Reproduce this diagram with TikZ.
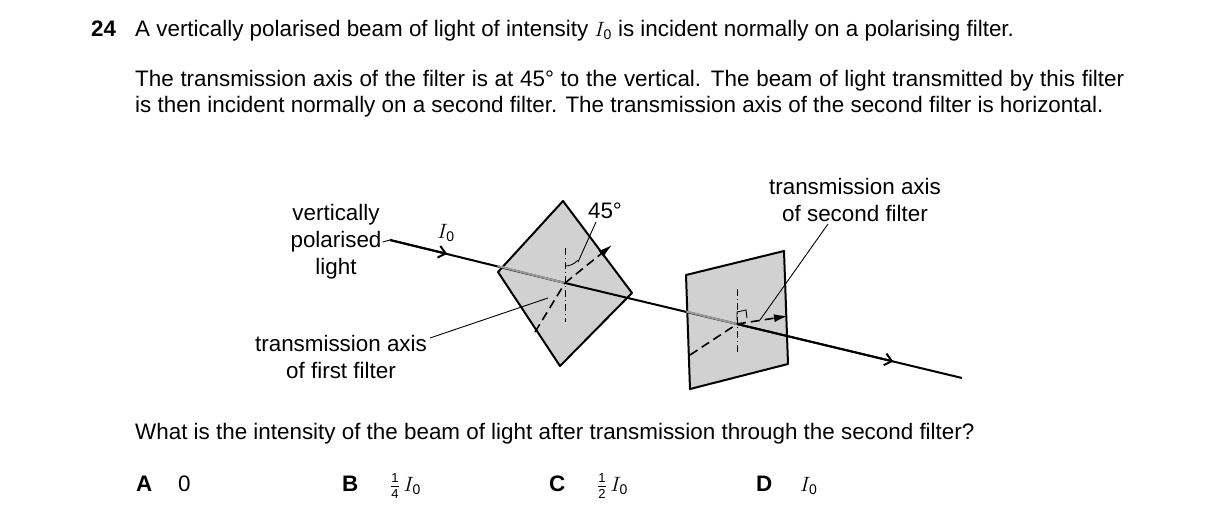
\documentclass[tikz,border=0pt]{standalone}
\usepackage{fontspec}
\setmainfont{Liberation Sans}
\usetikzlibrary{positioning,calc,arrows.meta}
\newcommand{\Izero}{$I_{\mbox{\fontsize{14}{14}\selectfont 0}}$}
\newcommand{\qfrac}[2]{$\frac{\mbox{\fontsize{13}{13}\selectfont #1}}{\mbox{\fontsize{13}{13}\selectfont #2}}$}
\tikzset{
  txt/.style={font=\fontsize{22.4}{26}\selectfont,inner sep=0pt},
  lbl/.style={font=\fontsize{22.4}{27}\selectfont,align=center,inner sep=1pt},
  filter/.style={draw,line width=2pt,fill=black!18,line join=round},
  beam/.style={line width=2pt},
  axis/.style={dash pattern=on 9pt off 5pt,line width=1.6pt},
  centre/.style={dash pattern=on 7pt off 3pt on 1pt off 3pt,line width=0.8pt},
  leader/.style={line width=0.9pt},
}
\begin{document}
\begin{tikzpicture}[x=1pt,y=-1pt,>={Latex[length=14pt,width=8pt]}]
\useasboundingbox (0,0) rectangle (1216,522);
% question text
\node[txt,anchor=base west,font=\fontsize{22.4}{26}\selectfont\bfseries] (num) at (91,36) {24};
\node[txt,anchor=base west] (q1) at (135,36) {A vertically polarised beam of light of intensity \Izero\ is incident normally on a polarising filter.};
\node[txt,anchor=north west,text width=989pt,align=justify] (q2) at (135,70) {The transmission axis of the filter is at 45° to the vertical. The beam of light transmitted by this filter is then incident normally on a second filter. The transmission axis of the second filter is horizontal.};
% filters
\draw[filter] (563,201) -- (632,293) -- (560,366) -- (498,272) -- cycle;
\draw[filter] (686,275) -- (784,251) -- (788,364) -- (690,389) -- cycle;
\coordinate (c1) at (565,283);
\coordinate (c2) at (737,324);
\coordinate (start) at (390,240);
\coordinate (stop) at (962,378);
% beam
\draw[beam] (start) -- (c1);
\draw[beam] (c1) -- (c2);
\draw[beam] (c2) -- (stop);
\draw[beam,black!40] ($(start)!0.188!(stop)$) -- (c1);
\draw[beam,black!40] ($(start)!0.518!(stop)$) -- (c2);
\draw[beam,->,>={Straight Barb[length=7pt,width=12pt]}] (start) -- ($(start)!0.1!(stop)$);
\draw[beam,->,>={Straight Barb[length=7pt,width=12pt]}] (c2) -- ($(start)!0.88!(stop)$);
% first filter axes
\draw[centre] (565,248) -- (565,322);
\draw[axis] (535,332) -- (c1);
\draw[axis,->] (c1) -- (612,245);
\draw[leader] (565,266) arc[start angle=90,end angle=42,radius=17];
% second filter axes
\draw[centre] (737,289) -- (737,355);
\draw[axis] (690,355) -- (c2);
\draw[axis,->] (c2) -- (788,316);
\draw[leader] (737,320) -- (737,312) -- (746,310) -- (747,318);
% labels
\node[lbl] (vpl) at (336,242) {vertically\\polarised\\light};
\draw[leader] (vpl.east) -- (start);
\node[lbl] (I0) at (446,233) {\Izero};
\node[lbl] (deg) at (605,211) {45°};
\coordinate (arc) at (578,262);
\draw[leader] (596,222) -- (arc);
\node[lbl] (tx1) at (341,357) {transmission axis\\of first filter};
\coordinate (ax1) at (548,298);
\draw[leader] (430,338) -- (ax1);
\node[lbl] (tx2) at (855,200) {transmission axis\\of second filter};
\coordinate (ax2) at (760,320);
\draw[leader] (828,224) -- (ax2);
% question and options
\node[txt,anchor=base west] (q3) at (135,439) {What is the intensity of the beam of light after transmission through the second filter?};
\node[txt,anchor=base west,font=\fontsize{22.4}{26}\selectfont\bfseries] (A) at (136,491) {A};
\node[txt,anchor=base west] (a) at (178,491) {0};
\node[txt,anchor=base west,font=\fontsize{22.4}{26}\selectfont\bfseries] (B) at (342,491) {B};
\node[txt,anchor=base west] (b) at (390,491) {\qfrac14\,\Izero};
\node[txt,anchor=base west,font=\fontsize{22.4}{26}\selectfont\bfseries] (C) at (549,491) {C};
\node[txt,anchor=base west] (c) at (597,491) {\qfrac12\,\Izero};
\node[txt,anchor=base west,font=\fontsize{22.4}{26}\selectfont\bfseries] (D) at (756,491) {D};
\node[txt,anchor=base west] (d) at (800,491) {\Izero};
\end{tikzpicture}
\end{document}
